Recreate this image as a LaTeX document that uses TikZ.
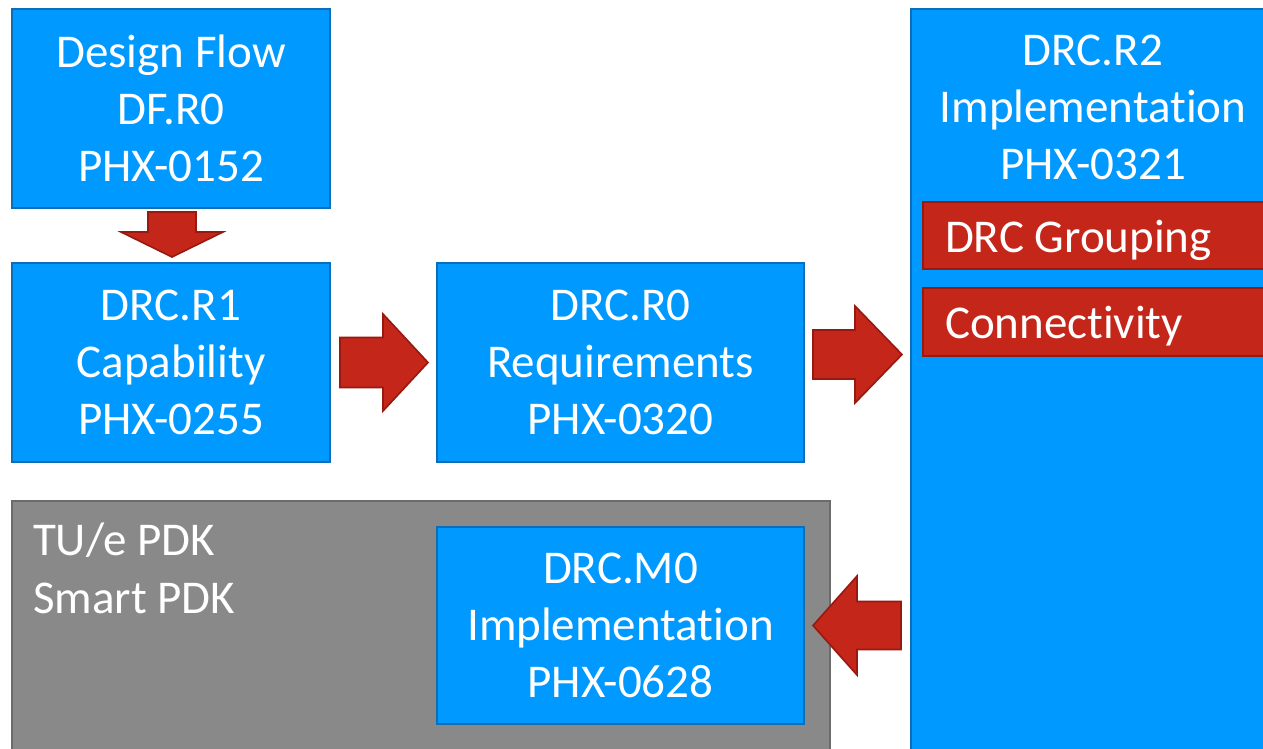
\documentclass[tikz,border=0pt]{standalone}
\usepackage{fontspec}
\setmainfont[Ligatures={NoCommon,NoContextual,NoRequired},Contextuals=NoAlternate]{Carlito}
\usetikzlibrary{calc}

% keep "t" and "i" as separate glyphs
\newcommand{\tbreak}{\kern0pt}

\definecolor{boxblue}{HTML}{0099FF}
\definecolor{boxblueline}{HTML}{0A6EB8}
\definecolor{flowred}{HTML}{C4261A}
\definecolor{flowredline}{HTML}{97190F}
\definecolor{pdkgray}{HTML}{898989}
\definecolor{pdkgrayline}{HTML}{6B6B6B}

\tikzset{
  bluebox/.style={rectangle, draw=boxblueline, fill=boxblue, line width=2pt,
    inner sep=0pt, outer sep=0pt},
  redbox/.style={rectangle, draw=flowredline, fill=flowred, line width=2pt,
    inner sep=0pt, outer sep=0pt},
  graybox/.style={rectangle, draw=pdkgrayline, fill=pdkgray, line width=2pt,
    inner sep=0pt, outer sep=0pt},
  label/.style={text=white, inner sep=0pt, outer sep=0pt,
    font=\fontsize{47}{57}\selectfont},
  flowarrow/.style={draw=flowredline, fill=flowred, line width=1.6pt, line join=miter},
  % block arrow along +x: length, shaft half width, head half width, head length
  pics/blkarrow/.style n args={4}{code={
    \path[flowarrow] (0,#2) -- (#1-#4,#2) -- (#1-#4,#3) -- (#1,0)
      -- (#1-#4,-#3) -- (#1-#4,-#2) -- (0,-#2) -- cycle;
  }},
}

\begin{document}
\begin{tikzpicture}[x=1pt,y=-1pt]
\clip (0,0) rectangle (1263,748);
\fill[white] (0,0) rectangle (1263,748);

% PDK frame and its contents
\node[graybox, minimum width=818, minimum height=259] (pdk) at (421,630.5) {};
\node[label, anchor=base west] (tue) at (33,555) {TU/e PDK};
\node[label, anchor=base west] (smart) at (33,613) {Smart PDK};

% requirement and implementation blocks
\node[bluebox, minimum width=318, minimum height=199] (df) at (171,108.5) {};
\node[label, align=center] (dftext) at (df.center) {Design Flow\\DF.R0\\PHX-0152};

\node[bluebox, minimum width=318, minimum height=199] (r1) at (171,362.5) {};
\node[label, align=center] (r1text) at (r1.center) {DRC.R1\\Capability\\PHX-0255};

\node[bluebox, minimum width=367, minimum height=199] (r0) at (620.5,362.5) {};
\node[label, align=center] (r0text) at (r0.center) {DRC.R0\\Requirements\\PHX-0320};

\node[bluebox, minimum width=367, minimum height=197] (m0) at (620.5,625.5) {};
\node[label, align=center] (m0text) at (m0.center) {DRC.M0\\Implementat\tbreak ion\\PHX-0628};

\node[bluebox, minimum width=369, minimum height=751] (r2) at (1095.5,384.5) {};
\node[label, align=center] (r2text) at (1093,107) {DRC.R2\\Implementat\tbreak ion\\PHX-0321};

\node[redbox, minimum width=362, minimum height=67] (grp) at (1104,235.5) {};
\node[label, anchor=base west] (grptext) at (945,252) {DRC Grouping};
\node[redbox, minimum width=362, minimum height=68] (conn) at (1104,322) {};
\node[label, anchor=base west] (conntext) at (945,338) {Connect\tbreak ivity};

% block arrows between the stages
\pic[rotate=-90] at ($(df.south)+(1,4)$) {blkarrow={45}{24}{51}{25}};
\pic at ($(r1.east)+(10,0)$) {blkarrow={88}{25}{48.5}{45}};
\pic at ($(r0.east)+(9,-8)$) {blkarrow={89}{24.5}{48.5}{47}};
\pic[rotate=180] at ($(r2.west |- m0.east)+(-10,0)$) {blkarrow={88}{24}{49.5}{44}};
\end{tikzpicture}
\end{document}
